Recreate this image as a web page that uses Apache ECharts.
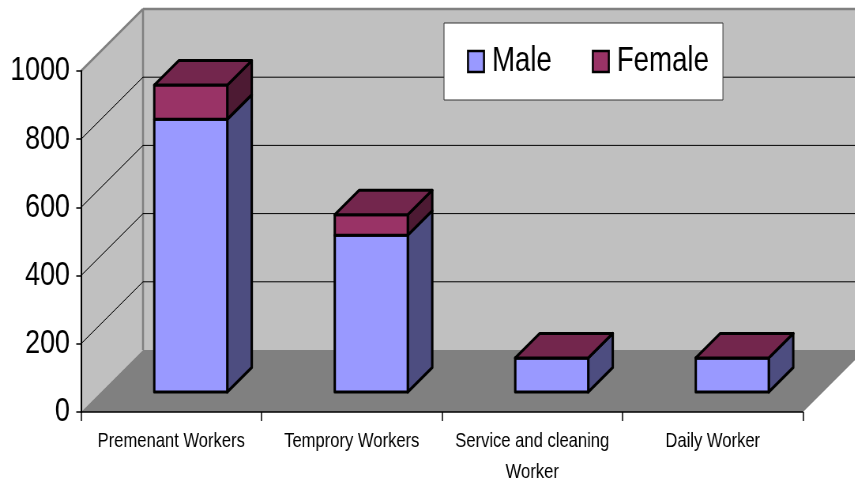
<!DOCTYPE html>
<html lang="en">
<head>
    <meta charset="UTF-8">
    <title>Workers</title>
    <script src="https://cdn.jsdelivr.net/npm/echarts@6/dist/echarts.min.js"></script>
    <style type="text/css">
        html, body { margin: 0; padding: 0; background: #fff; overflow: hidden; width: 855px; height: 482px; }
        /* the reference is a horizontally squeezed picture, so squeeze the whole canvas the same way */
        #box { width: 1082px; height: 482px; transform: scaleX(0.79); transform-origin: left top; }
    </style>
</head>
<body>
    <div id="box"></div>
<script>
    var categories = ["Premenant Workers", "Temprory Workers", "Service and cleaning\nWorker", "Daily Worker"];
    var maleValues = [800, 460, 100, 100];
    var femaleValues = [100, 60, 0, 0];
    var yTicks = [0, 200, 400, 600, 800, 1000];

    var font = "'Liberation Sans', Arial, sans-serif";
    var sx = 0.79; // same as the css transform
    // depth of the fake 3d box, in pixels
    var wallDepth = 62;
    var barShift = 20;
    var barDepth = 24.5;
    var barWidth = 73;

    function px(v) {
        return v / sx;
    }

    function poly(points, fill, stroke, lineWidth) {
        return {
            type: "polygon",
            shape: { points: points },
            style: { fill: fill, stroke: stroke || null, lineWidth: lineWidth || 0, lineJoin: "round" }
        };
    }

    function line(x1, y1, x2, y2, color, width) {
        return {
            type: "line",
            shape: { x1: x1, y1: y1, x2: x2, y2: y2 },
            style: { stroke: color, lineWidth: width }
        };
    }

    function renderWall(params, api) {
        var r = params.coordSys;
        var dx = px(wallDepth), dy = wallDepth;
        var tick = api.value(0);
        var y = api.coord([0, tick])[1];
        var kids = [];
        if (params.dataIndex === 0) {
            var right = r.x + r.width, bottom = r.y + r.height;
            kids.push(poly([[r.x + dx, r.y - dy], [right + dx, r.y - dy], [right + dx, bottom - dy], [r.x + dx, bottom - dy]], "#c0c0c0"));
            kids.push(poly([[r.x, r.y], [r.x + dx, r.y - dy], [r.x + dx, bottom - dy], [r.x, bottom]], "#c0c0c0"));
            kids.push(poly([[r.x, bottom], [r.x + dx, bottom - dy], [right + dx, bottom - dy], [right, bottom]], "#808080"));
            kids.push(line(r.x + dx, r.y - dy, r.x + dx, bottom - dy, "#808080", 2.5));
        } else if (tick < yTicks[yTicks.length - 1]) {
            kids.push(line(r.x, y, r.x + dx, y - dy, "#000", 1));
            kids.push(line(r.x + dx, y - dy, r.x + r.width + dx, y - dy, "#000", 1));
        } else {
            kids.push(line(r.x, y, r.x + dx, y - dy, "#808080", 2.5));
            kids.push(line(r.x + dx, y - dy, r.x + r.width + dx, y - dy, "#808080", 2.5));
        }
        return { type: "group", children: kids };
    }

    function barRender(front, side, top) {
        return function (params, api) {
            var c0 = api.coord([api.value(0), api.value(1)]);
            var c1 = api.coord([api.value(0), api.value(2)]);
            var x0 = c0[0] + px(barShift - 0.5 - barWidth / 2);
            var x1 = x0 + px(barWidth);
            var y0 = c0[1] - barShift;
            var y1 = c1[1] - barShift;
            var dx = px(barDepth), dy = barDepth;
            var kids = [
                poly([[x1, y0], [x1 + dx, y0 - dy], [x1 + dx, y1 - dy], [x1, y1]], side, "#000", 3),
                poly([[x0, y0], [x1, y0], [x1, y1], [x0, y1]], front, "#000", 3)
            ];
            if (top) {
                kids.push(poly([[x0, y1], [x0 + dx, y1 - dy], [x1 + dx, y1 - dy], [x1, y1]], top, "#000", 3));
            }
            return { type: "group", children: kids };
        };
    }

    var mychart = echarts.init(document.getElementById("box"));

    mychart.setOption({
        animation: false,
        backgroundColor: "#fff",
        grid: { left: px(81), top: 71, width: px(722), height: 341, outerBoundsMode: "none" },
        legend: {
            left: px(444),
            top: 23,
            padding: [21, px(14), 21, px(23)],
            itemWidth: px(16),
            itemHeight: 21,
            itemGap: px(40),
            icon: "rect",
            backgroundColor: "#fff",
            borderColor: "#333",
            borderWidth: 1,
            borderRadius: 0,
            data: ["Male", "Female"],
            itemStyle: { borderColor: "#000", borderWidth: 2.5 },
            textStyle: { fontFamily: font, fontSize: 35, color: "#000", padding: [0, 0, 6, 5] }
        },
        xAxis: {
            type: "category",
            data: categories,
            z: 3,
            axisLine: { lineStyle: { color: "#000", width: 1.5 } },
            axisTick: { show: true, length: 9, lineStyle: { color: "#000", width: 1.5 } },
            axisLabel: { fontFamily: font, fontSize: 21, color: "#000", margin: 14, lineHeight: 31, interval: 0 },
            splitLine: { show: false }
        },
        yAxis: {
            type: "value",
            min: 0,
            max: 1000,
            interval: 200,
            z: 3,
            axisLine: { show: true, lineStyle: { color: "#000", width: 2 } },
            axisTick: { show: true, length: 6, lineStyle: { color: "#000", width: 1.5 } },
            axisLabel: {
                fontFamily: font, fontSize: 34, color: "#000", margin: 14,
                formatter: function (v) { return String(v); }
            },
            splitLine: { show: false }
        },
        series: [
            {
                type: "custom",
                name: "walls",
                z: 1,
                silent: true,
                renderItem: renderWall,
                data: yTicks.map(function (t) { return [t]; }),
                encode: { y: 0 }
            },
            {
                type: "custom",
                name: "Male",
                z: 4,
                itemStyle: { color: "#9999ff" },
                renderItem: barRender("#9999ff", "#4d4d80", null),
                data: maleValues.map(function (v, i) { return [i, 0, v]; }),
                encode: { x: 0, y: [1, 2] }
            },
            {
                type: "custom",
                name: "Female",
                z: 5,
                itemStyle: { color: "#993366" },
                renderItem: barRender("#993366", "#4d1a33", "#73264d"),
                data: femaleValues.map(function (v, i) { return [i, maleValues[i], maleValues[i] + v]; }),
                encode: { x: 0, y: [1, 2] }
            }
        ]
    });
</script>
</body>
</html>
